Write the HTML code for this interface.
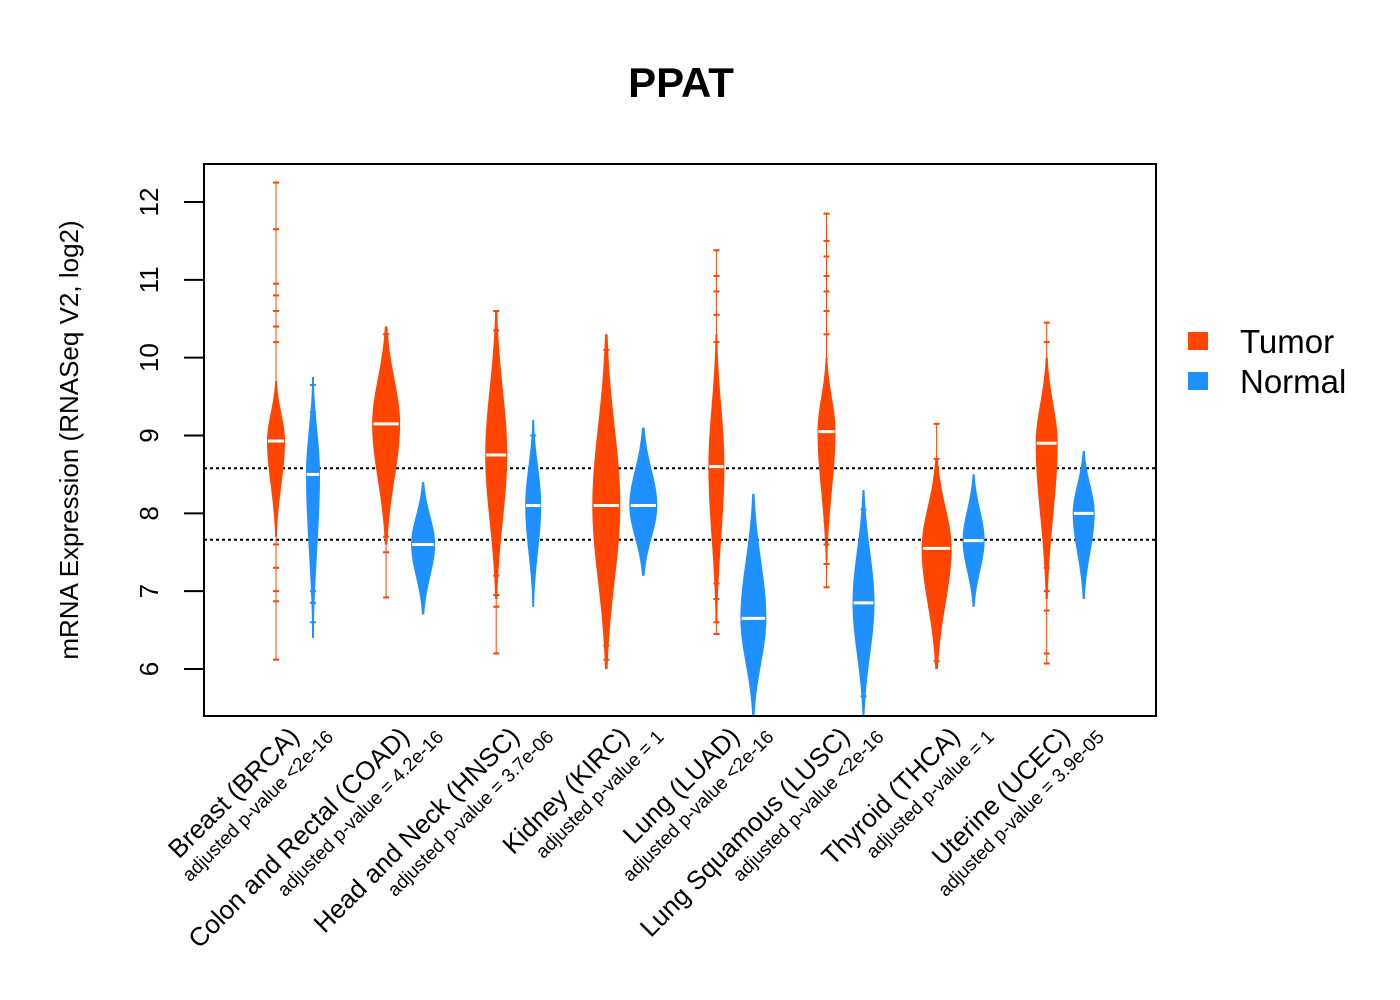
<!DOCTYPE html>
<html><head><meta charset="utf-8"><style>
body{margin:0;background:#fff;}
svg{display:block;font-family:"Liberation Sans",Arial,sans-serif;}
</style></head><body>
<svg id="chart" width="1400" height="1000">
<text x="681" y="97" text-anchor="middle" font-size="42" font-weight="bold">PPAT</text>
<text transform="translate(78,440) rotate(-90)" text-anchor="middle" font-size="26">mRNA Expression (RNASeq V2, log2)</text>
<g id="plot"></g>
<rect x="204" y="164" width="952" height="552" fill="none" stroke="#000" stroke-width="2"/>
<g>
<rect x="1188" y="332" width="20" height="18" fill="#FF4500"/>
<text x="1240" y="353" font-size="33">Tumor</text>
<rect x="1188" y="372" width="20" height="18" fill="#1E90FF"/>
<text x="1240" y="393" font-size="33">Normal</text>
</g>
</svg>
<script>
const categories=["Breast (BRCA)","Colon and Rectal (COAD)","Head and Neck (HNSC)","Kidney (KIRC)","Lung (LUAD)","Lung Squamous (LUSC)","Thyroid (THCA)","Uterine (UCEC)"];
const pvalues=["adjusted p-value <2e-16","adjusted p-value = 4.2e-16","adjusted p-value = 3.7e-06","adjusted p-value = 1","adjusted p-value <2e-16","adjusted p-value <2e-16","adjusted p-value = 1","adjusted p-value = 3.9e-05"];
const tumorMedian=[8.93,9.15,8.75,8.1,8.6,9.05,7.55,8.9];
const tumorMin=[7.7,7.6,6.9,6.0,6.6,7.4,6.0,6.9];
const tumorMax=[9.7,10.4,10.6,10.3,10.3,10.0,8.7,10.0];
const tumorWidth=[9,14,11,14,8,9,15,11];
const normalMedian=[8.5,7.6,8.1,8.1,6.65,6.85,7.65,8.0];
const normalMin=[6.4,6.7,6.8,7.2,5.4,5.4,6.8,6.9];
const normalMax=[9.75,8.4,9.2,9.1,8.25,8.3,8.5,8.8];
const normalWidth=[7,12,8,14,13,11,11,11];
const tumorOutliers=[[12.25,11.65,10.95,10.8,10.6,10.4,10.2,7.6,7.3,7.0,6.87,6.12],[10.3,10.1,8.0,7.7,7.5,6.92],[10.6,10.35,10.1,9.9,7.5,7.2,6.95,6.8,6.2],[10.1,9.8,9.5,9.2,7.2,6.9,6.5,6.3,6.12],[11.38,11.05,10.85,10.55,10.2,7.4,7.1,6.9,6.6,6.45],[11.85,11.5,11.3,11.05,10.85,10.6,10.3,7.9,7.6,7.35,7.05],[9.15,8.7,6.9,6.7,6.5,6.3,6.1],[10.45,10.2,7.3,7.0,6.75,6.2,6.07]];
const normalOutliers=[[9.65,9.3,7.0,6.85,6.6],[],[9.0],[8.9],[7.9,7.5,5.7],[8.05,6.2,5.9,5.65],[],[]];
const yTicks=[6,7,8,9,10,11,12];
const refLines=[8.58,7.66];

const NS="http://www.w3.org/2000/svg";
const plot=document.getElementById('plot');
const y=v=>669-(v-6)*(467/6);
const xT=i=>276+i*110.1;
const xN=i=>313+i*110.1;
function mk(tag,attrs,parent){const e=document.createElementNS(NS,tag);for(const k in attrs)e.setAttribute(k,attrs[k]);(parent||plot).appendChild(e);return e;}
yTicks.forEach(t=>{
  const l=mk('line',{x1:184,x2:204,y1:y(t),y2:y(t),stroke:'#000','stroke-width':2});
  
  
  const tx=mk('text',{transform:`translate(158,${y(t)}) rotate(-90)`,'text-anchor':'middle','font-size':26});
  tx.textContent=t;
  
  
});
refLines.forEach(r=>{
  const l=mk('line',{x1:204,x2:1156,y1:y(r),y2:y(r),stroke:'#000','stroke-width':2,'stroke-dasharray':'3,3'});
  
  
});
function violin(cx,med,mn,mx,w,color,outs,name){
  const g=mk('g',{});
  
  
  const su=(mx-med)/2.2, sd=(med-mn)/2.2;
  const pts=[],n=60;
  for(let k=0;k<=n;k++){const v=mn+(mx-mn)*k/n;const s=v>med?su:sd;const ww=w*Math.exp(-0.5*((v-med)/s)**2);pts.push([cx+ww,y(v)]);}
  const left=pts.map(p=>[2*cx-p[0],p[1]]).reverse();
  mk('polygon',{points:pts.concat(left).map(p=>p.join(',')).join(' '),fill:color},g);
  mk('line',{x1:cx,x2:cx,y1:y(mn),y2:y(mx),stroke:color,'stroke-width':2},g);
  outs.forEach(o=>{const m=mk('line',{x1:cx-3,x2:cx+3,y1:y(o),y2:y(o),stroke:color,'stroke-width':2},g);});
  const outsAll=outs.length?outs:[med];
  const top=Math.max(mx,...outsAll),bot=Math.min(mn,...outsAll);
  mk('line',{x1:cx,x2:cx,y1:y(top),y2:y(bot),stroke:color,'stroke-width':1},g);
  mk('line',{x1:cx-w*0.9,x2:cx+w*0.9,y1:y(med),y2:y(med),stroke:'#fff','stroke-width':3},g);
}
categories.forEach((c,i)=>{
  violin(xT(i),tumorMedian[i],tumorMin[i],tumorMax[i],tumorWidth[i],'#FF4500',tumorOutliers[i],'violin-tumor-'+i);
  violin(xN(i),normalMedian[i],normalMin[i],normalMax[i],normalWidth[i],'#1E90FF',normalOutliers[i],'violin-normal-'+i);
  const cx=(xT(i)+xN(i))/2;
  const t=mk('text',{transform:`translate(${cx+6},${738}) rotate(-45)`,'text-anchor':'end','font-size':26});
  t.textContent=c;
  
  
  const p=mk('text',{transform:`translate(${cx+40},${738}) rotate(-45)`,'text-anchor':'end','font-size':19});
  p.textContent=pvalues[i];
  
  
});
</script>
</body></html>
